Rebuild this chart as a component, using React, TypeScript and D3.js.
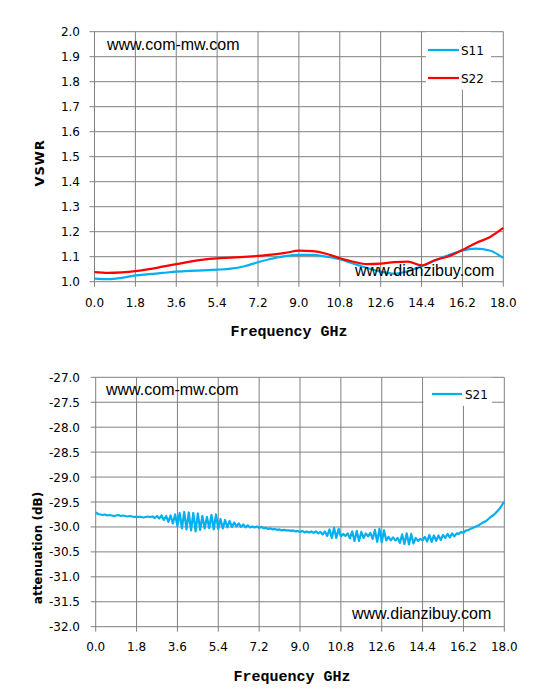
import React from "react";
import * as d3 from "d3";

// ---------- data ----------
const freqTop = [0, 0.6, 1.2, 1.8, 2.4, 3.0, 3.6, 4.2, 4.8, 5.4, 6.0, 6.6, 7.2, 7.8, 8.4, 9.0, 9.6, 10.2, 10.8, 11.4, 12.0, 12.6, 13.2, 13.8, 14.4, 15.0, 15.6, 16.2, 16.8, 17.4, 18.0];
const s11 = [1.012, 1.010, 1.015, 1.025, 1.030, 1.035, 1.040, 1.043, 1.045, 1.048, 1.052, 1.062, 1.078, 1.092, 1.102, 1.107, 1.107, 1.100, 1.090, 1.072, 1.055, 1.040, 1.032, 1.042, 1.062, 1.085, 1.107, 1.125, 1.132, 1.125, 1.095];
const s22 = [1.038, 1.035, 1.037, 1.042, 1.050, 1.060, 1.070, 1.080, 1.088, 1.093, 1.096, 1.099, 1.103, 1.108, 1.115, 1.124, 1.122, 1.112, 1.094, 1.080, 1.070, 1.072, 1.078, 1.080, 1.065, 1.087, 1.102, 1.127, 1.155, 1.178, 1.215];

// S21 sampled every 0.1 GHz from 0.0 to 18.0
const s21 = [
  -29.71, -29.74, -29.75, -29.76, -29.75, -29.77, -29.76, -29.77, -29.78, -29.77,
  -29.76, -29.78, -29.77, -29.78, -29.79, -29.78, -29.79, -29.80, -29.80, -29.80,
  -29.80, -29.81, -29.80, -29.79, -29.80, -29.79, -29.82, -29.78, -29.83, -29.77,
  -29.86, -29.78, -29.90, -29.77, -29.93, -29.75, -29.98, -29.72, -30.03, -29.70,
  -30.05, -29.71, -30.07, -29.72, -30.09, -29.73, -30.06, -29.78, -30.03, -29.80,
  -30.02, -29.76, -30.05, -29.75, -30.04, -29.84, -30.03, -29.86, -30.01, -29.88,
  -30.00, -29.91, -29.99, -29.93, -30.00, -29.95, -30.01, -29.97, -30.01, -29.99,
  -30.01, -29.99, -30.02, -30.00, -30.03, -30.02, -30.04, -30.03, -30.05, -30.04,
  -30.06, -30.05, -30.07, -30.06, -30.07, -30.07, -30.08, -30.07, -30.09, -30.08,
  -30.10, -30.08, -30.11, -30.09, -30.11, -30.09, -30.12, -30.09, -30.13, -30.10,
  -30.15, -30.09, -30.18, -30.05, -30.22, -30.02, -30.22, -30.04, -30.19, -30.14,
  -30.18, -30.13, -30.23, -30.09, -30.28, -30.08, -30.28, -30.10, -30.22, -30.13,
  -30.19, -30.12, -30.24, -30.06, -30.30, -30.04, -30.31, -30.07, -30.27, -30.20,
  -30.27, -30.21, -30.27, -30.22, -30.32, -30.15, -30.34, -30.13, -30.35, -30.14,
  -30.33, -30.22, -30.28, -30.24, -30.27, -30.20, -30.29, -30.16, -30.30, -30.17,
  -30.28, -30.17, -30.26, -30.16, -30.22, -30.14, -30.21, -30.13, -30.19, -30.13,
  -30.14, -30.10, -30.12, -30.07, -30.07, -30.04, -30.02, -30.00, -29.98, -29.96,
  -29.93, -29.90, -29.88, -29.84, -29.80, -29.77, -29.73, -29.68, -29.63, -29.56,
  -29.49,
];
const freqBot = s21.map((_, i) => i / 10);

const xTicks = [0, 1.8, 3.6, 5.4, 7.2, 9.0, 10.8, 12.6, 14.4, 16.2, 18.0];
const yTicksTop = [1.0, 1.1, 1.2, 1.3, 1.4, 1.5, 1.6, 1.7, 1.8, 1.9, 2.0];
const yTicksBot = [-32.0, -31.5, -31.0, -30.5, -30.0, -29.5, -29.0, -28.5, -28.0, -27.5, -27.0];

const BLUE = "#00B0F0";
const RED = "#FF0000";
const GRID = "#808080";
const TICK_FONT = "DejaVu Sans, Verdana, sans-serif";
const MARK_FONT = "Liberation Sans, Arial, sans-serif";

function Grid({ x, y, yTicks, yBot, yTop, labelBaseline }: any) {
  return (
    <g>
      {xTicks.map((t) => (
        <line key={"vx" + t} x1={x(t)} x2={x(t)} y1={yTop} y2={yBot + 5} stroke={GRID} strokeWidth={1} />
      ))}
      {yTicks.map((t: number) => (
        <line key={"hy" + t} x1={x(0) - 5} x2={x(18)} y1={y(t)} y2={y(t)} stroke={GRID} strokeWidth={1} />
      ))}
      {xTicks.map((t) => (
        <text key={"xl" + t} x={x(t)} y={labelBaseline} textAnchor="middle" fontFamily={TICK_FONT} fontSize={12} fill="#000">
          {t.toFixed(1)}
        </text>
      ))}
      {yTicks.map((t: number) => (
        <text key={"yl" + t} x={80} y={y(t) + 4.5} textAnchor="end" fontFamily={TICK_FONT} fontSize={12} fill="#000">
          {t.toFixed(1)}
        </text>
      ))}
    </g>
  );
}

export default function App() {
  // top panel scales
  const xT = d3.scaleLinear().domain([0, 18]).range([94.5, 503.3]);
  const yT = d3.scaleLinear().domain([1.0, 2.0]).range([281.7, 31.7]);
  // bottom panel scales
  const xB = d3.scaleLinear().domain([0, 18]).range([95.7, 504.3]);
  const yB = d3.scaleLinear().domain([-32, -27]).range([626.7, 377.3]);

  const lineTop = (vals: number[]) =>
    d3.line<number>()
      .x((_, i) => xT(freqTop[i]))
      .y((d) => yT(d))
      .curve(d3.curveMonotoneX)(vals) || "";
  const lineBot =
    d3.line<number>()
      .x((_, i) => xB(freqBot[i]))
      .y((d) => yB(d))
      .curve(d3.curveLinear)(s21) || "";

  return (
    <svg width={534} height={693} style={{ position: "absolute", left: 0, top: 0, background: "#fff" }}>
      <rect x={0} y={0} width={534} height={693} fill="#fff" />
      {/* ---------- top chart ---------- */}
      <Grid x={xT} y={yT} yTicks={yTicksTop} yTop={31.7} yBot={281.7} labelBaseline={307} />
      <text x={107} y={49.5} fontFamily={MARK_FONT} fontSize={16} fill="#000">www.com-mw.com</text>
      <path d={lineTop(s11)} fill="none" stroke={BLUE} strokeWidth={2.2} />
      <path d={lineTop(s22)} fill="none" stroke={RED} strokeWidth={2.2} />
      <text x={355} y={275.5} fontFamily={MARK_FONT} fontSize={16} fill="#000">www.dianzibuy.com</text>
      <rect x={426} y={32.2} width={65} height={57.5} fill="#fff" />
      <line x1={428} x2={459} y1={50} y2={50} stroke={BLUE} strokeWidth={2.2} />
      <text x={461} y={54.5} fontFamily={TICK_FONT} fontSize={12} fill="#000">S11</text>
      <line x1={428} x2={459} y1={78} y2={78} stroke={RED} strokeWidth={2.2} />
      <text x={461} y={82.5} fontFamily={TICK_FONT} fontSize={12} fill="#000">S22</text>
      <text x={289} y={336} textAnchor="middle" fontFamily="Liberation Mono, monospace" fontWeight="bold" fontSize={15} fill="#000">Frequency GHz</text>
      <text transform="translate(43.5,163) rotate(-90)" textAnchor="middle" fontFamily="DejaVu Sans, sans-serif" fontWeight="bold" fontSize={13} letterSpacing={0.8} fill="#000">VSWR</text>

      {/* ---------- bottom chart ---------- */}
      <Grid x={xB} y={yB} yTicks={yTicksBot} yTop={377.3} yBot={626.7} labelBaseline={651} />
      <text x={106} y={395} fontFamily={MARK_FONT} fontSize={16} fill="#000">www.com-mw.com</text>
      <path d={lineBot} fill="none" stroke={BLUE} strokeWidth={2.2} strokeLinejoin="round" />
      <text x={352} y={619} fontFamily={MARK_FONT} fontSize={16} fill="#000">www.dianzibuy.com</text>
      <rect x={423.5} y={377.8} width={68.5} height={28} fill="#fff" />
      <line x1={432} x2={462} y1={394} y2={394} stroke={BLUE} strokeWidth={2.2} />
      <text x={465} y={398.5} fontFamily={TICK_FONT} fontSize={12} fill="#000">S21</text>
      <text x={292} y={681} textAnchor="middle" fontFamily="Liberation Mono, monospace" fontWeight="bold" fontSize={15} fill="#000">Frequency GHz</text>
      <text transform="translate(42,548) rotate(-90)" textAnchor="middle" fontFamily="DejaVu Sans, sans-serif" fontWeight="bold" fontSize={12} fill="#000">attenuation (dB)</text>
    </svg>
  );
}
